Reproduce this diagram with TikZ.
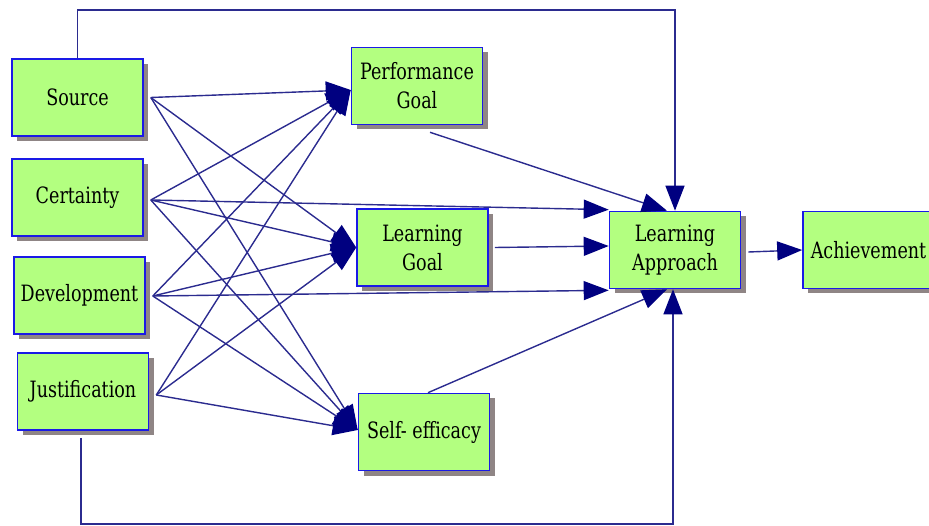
\documentclass[tikz,border=0pt]{standalone}
\usepackage{fontspec}
\setmainfont{DejaVu Serif}[FakeStretch=0.78]
\usetikzlibrary{arrows.meta,shadows,calc}
\definecolor{boxfill}{HTML}{B3FF80}
\definecolor{boxline}{HTML}{1A1AE6}
\definecolor{wirec}{HTML}{2B2B8F}
\definecolor{tipc}{HTML}{000080}
\definecolor{shade}{HTML}{8F8585}
\begin{document}
\begin{tikzpicture}[x=1pt,y=-1pt,
  box/.style={draw=boxline, line width=1.6pt, fill=boxfill, minimum width=131pt, minimum height=77pt,
    align=center, inner sep=0pt, font=\fontsize{22.5}{29}\selectfont,
    drop shadow={shadow xshift=5pt, shadow yshift=-5pt, fill=shade, opacity=1}},
  wire/.style={draw=wirec, line width=1.4pt},
  arr/.style={wire, -{Triangle[length=25pt,width=19pt,color=tipc]}}]
\useasboundingbox (0,0) rectangle (929,526);
\clip (0,0) rectangle (929,526);

% boxes
\node[box] (src) at (77.5,97.5) {Source};
\node[box] (cer) at (77.5,197.5) {Certainty};
\node[box] (dev) at (79.5,295.5) {Development};
\node[box] (jus) at (83,391.5) {Justification};
\node[box] (pg) at (417,86) {Performance\\Goal};
\node[box] (lg) at (422.5,247.5) {Learning\\Goal};
\node[box] (se) at (424,432) {Self- efficacy};
\node[box] (la) at (675,250) {Learning\\Approach};
\node[box] (ach) at (868.5,250) {Achievement};

% ports
\coordinate (srcO) at ([xshift=7pt]src.east);
\coordinate (cerO) at ([xshift=7pt,yshift=-2.5pt]cer.east);
\coordinate (devO) at ([xshift=7pt,yshift=-0.5pt]dev.east);
\coordinate (jusO) at ([xshift=7pt,yshift=-3.5pt]jus.east);
\coordinate (pgI) at ([yshift=-4pt]pg.west);
\coordinate (lgI) at (lg.west);
\coordinate (seI) at ([yshift=2pt]se.west);

% source fan
\foreach \s in {srcO,cerO,devO,jusO}{
  \draw[arr] (\s) -- (pgI);
  \draw[arr] (\s) -- (lgI);
  \draw[arr] (\s) -- (seI);
}
\draw[arr] (cerO) -- ([yshift=1pt]la.north west);
\draw[arr] (devO) -- ([yshift=-1pt]la.south west);
\draw[arr] ([xshift=6pt]lg.east) -- ([yshift=4pt]la.west);
\draw[arr] ([xshift=13pt,yshift=-7pt]pg.south) -- ([xshift=-8pt]la.north);
\draw[arr] ([xshift=4pt]se.north) -- ([xshift=-8pt]la.south);
\draw[arr] (src.north) -- ++(0,-48) -| (la.north);
\draw[arr] ([xshift=-2pt,yshift=-7pt]jus.south) -- ++(0,86) -| ([xshift=-2pt]la.south);
\draw[arr] ([xshift=7pt,yshift=-2pt]la.east) -- (ach.west);
\end{tikzpicture}
\end{document}
